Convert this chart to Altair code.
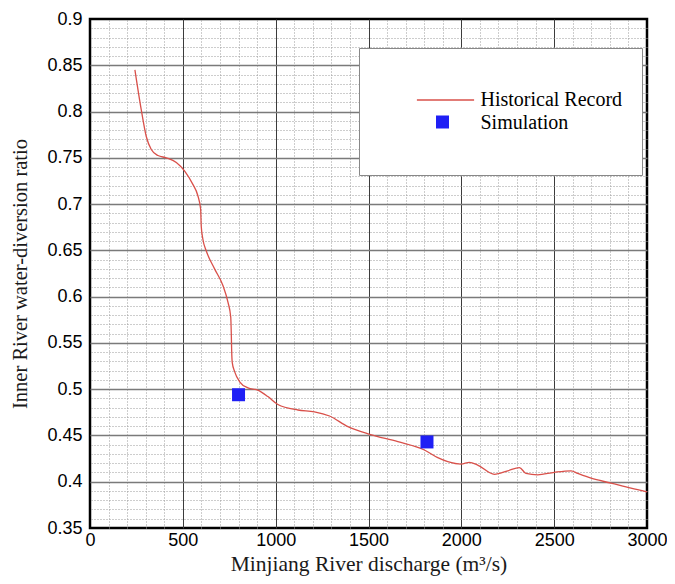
import altair as alt
import pandas as pd

# ---- data ----
hist_x = [242, 276, 303, 330, 366, 411, 465, 510, 554, 581, 596, 599, 608, 626,
          671, 716, 743, 758, 761, 763, 766, 779, 806, 851, 904, 958, 1012, 1120,
          1209, 1290, 1389, 1506, 1658, 1801, 1873, 1927, 1999, 2044, 2088, 2178,
          2250, 2313, 2348, 2411, 2501, 2591, 2627, 2699, 2806, 2914, 3000]
hist_y = [0.845, 0.802, 0.773, 0.759, 0.7525, 0.750, 0.745, 0.7357, 0.7213, 0.709,
          0.6944, 0.6765, 0.662, 0.6496, 0.630, 0.612, 0.594, 0.578, 0.560, 0.542,
          0.529, 0.519, 0.508, 0.5014, 0.499, 0.492, 0.4834, 0.4775, 0.4756, 0.471,
          0.4595, 0.4512, 0.4433, 0.4343, 0.426, 0.4217, 0.419, 0.421, 0.418, 0.408,
          0.4118, 0.4153, 0.409, 0.4075, 0.4102, 0.4118, 0.409, 0.4038, 0.3985,
          0.3930, 0.389]
sim_x = [800, 1815]
sim_y = [0.494, 0.443]

series_hist = "Historical Record"
series_sim = "Simulation"

x_major = [0, 500, 1000, 1500, 2000, 2500, 3000]
y_major = [0.35, 0.4, 0.45, 0.5, 0.55, 0.6, 0.65, 0.7, 0.75, 0.8, 0.85, 0.9]
x_minor = [v for v in range(100, 3000, 100) if v % 500 != 0]
y_minor = [round(0.35 + i * 0.01, 2) for i in range(1, 55) if i % 5 != 0]

RED = "#d9504a"
BLUE = "#1f1ff5"
SANS = "Liberation Sans"
SERIF = "Liberation Serif"

hist_df = pd.DataFrame({"x": hist_x, "y": hist_y, "series": series_hist})
sim_df = pd.DataFrame({"x": sim_x, "y": sim_y, "series": series_sim})

xs = alt.Scale(domain=[0, 3000], nice=False, zero=False)
ys = alt.Scale(domain=[0.35, 0.9], nice=False, zero=False)

minor_x_axis = alt.Axis(orient="top", values=x_minor, grid=True, gridColor="#9a9a9a",
                        gridDash=[1, 2], gridWidth=1, labels=False, ticks=False,
                        domain=False, title=None)
minor_y_axis = alt.Axis(orient="right", values=y_minor, grid=True, gridColor="#9a9a9a",
                        gridDash=[1, 2], gridWidth=1, labels=False, ticks=False,
                        domain=False, title=None)

edge_x = {"condition": {"test": "datum.value == 0 || datum.value == 3000", "value": 0}, "value": 1}
edge_y = {"condition": {"test": "datum.value < 0.36 || datum.value > 0.89", "value": 0}, "value": 1}

major_x_axis = alt.Axis(orient="bottom", values=x_major, grid=True, gridColor="#3c3c3c",
                        gridWidth=1, gridOpacity=edge_x, ticks=False, tickSize=0,
                        domain=False, labelFont=SANS, labelFontSize=18, labelColor="black",
                        labelPadding=3, labelFlush=False, format="d",
                        title="Minjiang River discharge (m\u00b3/s)", titleFont=SERIF,
                        titleFontSize=21.5, titleFontWeight="normal", titleColor="#1a1a1a",
                        titlePadding=4)
major_y_axis = alt.Axis(orient="left", values=y_major, grid=True, gridColor="#7a7a7a",
                        gridWidth=1.5, gridOpacity=edge_y, ticks=False, tickSize=0,
                        domain=False, labelFont=SANS, labelFontSize=18, labelColor="black",
                        labelPadding=8, labelFlush=False, format="~g",
                        title="Inner River water-diversion ratio", titleFont=SERIF,
                        titleFontSize=20.5, titleFontWeight="normal", titleColor="#1a1a1a",
                        titlePadding=16)

leg_domain = [" ", series_hist, series_sim, "  "]
legend_box = alt.Legend(title=" ", titleOrient="left", titleFontSize=1, titlePadding=35.5,
                        orient="none", legendX=269, legendY=29, padding=19,
                        fillColor="white", strokeColor="#888888",
                        symbolType="M-4.4,0H4.4", symbolSize=169, symbolStrokeWidth=1.5,
                        symbolOffset=22, labelOffset=25,
                        labelFont=SERIF, labelFontSize=20, labelColor="black",
                        rowPadding=3, labelLimit=400)
legend_sq = alt.Legend(title=None, orient="none", legendX=346, legendY=96.5, padding=0,
                       symbolSize=169, symbolFillColor=BLUE, symbolStrokeWidth=0,
                       labelExpr="''", labelFontSize=12)

line = alt.Chart(hist_df).mark_line(strokeWidth=1.3, interpolate="monotone").encode(
    x=alt.X("x:Q", scale=xs, axis=minor_x_axis),
    y=alt.Y("y:Q", scale=ys, axis=minor_y_axis),
    color=alt.Color("series:N", scale=alt.Scale(domain=leg_domain,
                    range=["transparent", RED, "transparent", "transparent"]),
                    legend=legend_box),
)

pts = alt.Chart(sim_df).mark_point(filled=True, size=169, opacity=1, color=BLUE).encode(
    x=alt.X("x:Q", scale=xs, axis=major_x_axis),
    y=alt.Y("y:Q", scale=ys, axis=major_y_axis),
    shape=alt.Shape("series:N", scale=alt.Scale(domain=[series_sim], range=["square"]),
                    legend=legend_sq),
)

chart = alt.layer(line, pts).resolve_axis(x="independent", y="independent").properties(
    width=557, height=509,
    autosize=alt.AutoSizeParams(type="none"),
    padding={"left": 82, "top": 11, "right": 20, "bottom": 48},
    background="white",
).configure_view(stroke="black", strokeWidth=2.5)

chart.save("out.html", embed_options={"renderer": "svg", "actions": False})
